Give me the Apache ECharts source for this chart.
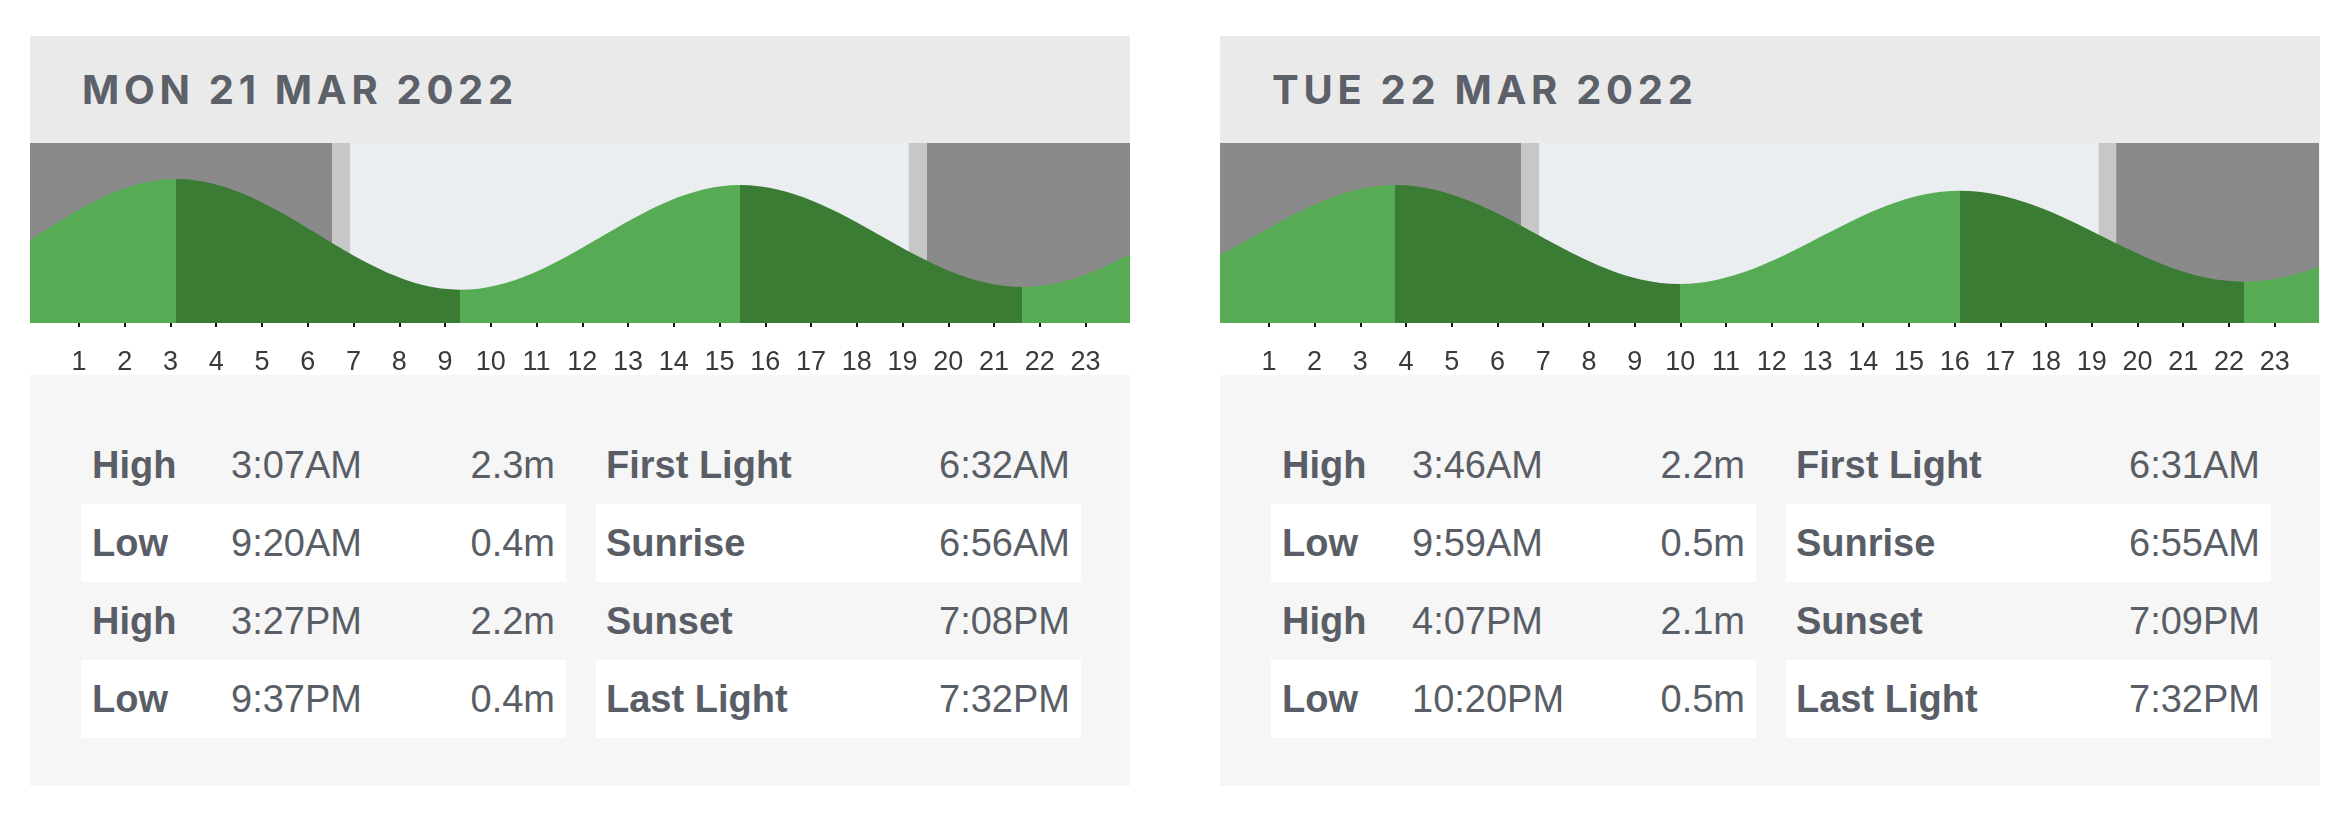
<!DOCTYPE html>
<html>
<head>
<meta charset="utf-8">
<script src="https://cdn.jsdelivr.net/npm/echarts@6/dist/echarts.min.js"></script>
<style>
html,body{margin:0;padding:0;background:#fff;width:2352px;height:825px;overflow:hidden;}
.panel{position:absolute;top:36px;width:1100px;height:750px;background:#f6f6f6;}
.head{position:absolute;left:0;top:0;width:1100px;height:107px;background:#eaeaea;}
.title{position:absolute;left:52px;top:0;height:107px;line-height:107px;font-family:Inter,"Open Sans",sans-serif;font-weight:700;font-size:40px;letter-spacing:4.7px;color:#5b6069;white-space:nowrap;}
.axisband{position:absolute;left:0;top:287px;width:1100px;height:52px;background:#fff;}
.tbl{position:absolute;top:390px;width:485px;}
.row{position:relative;height:78px;line-height:78px;font-family:"Liberation Sans",Arial,sans-serif;font-size:38px;color:#595e66;white-space:nowrap;}
.row.odd{background:#f6f6f6;}
.row.even{background:#ffffff;}
.row span{position:absolute;top:0;}
.lab{left:11px;font-weight:700;}
.val{right:11px;}
#chart{position:absolute;left:0;top:0;width:2352px;height:825px;}
</style>
</head>
<body>
<div class="panel" id="p1" style="left:30px;"><div class="head"><div class="title" id="t1"></div></div><div class="axisband"></div></div>
<div class="panel" id="p2" style="left:1220px;"><div class="head"><div class="title" id="t2"></div></div><div class="axisband"></div></div>
<div id="chart"></div>
<script>
// ---------- data ----------
const dayTitles = ['MON 21 MAR 2022', 'TUE 22 MAR 2022'];
const hourTicks = [1,2,3,4,5,6,7,8,9,10,11,12,13,14,15,16,17,18,19,20,21,22,23];
const tideLabels = ['High', 'Low', 'High', 'Low'];
const sunLabels = ['First Light', 'Sunrise', 'Sunset', 'Last Light'];

const day1TideTimes = ['3:07AM', '9:20AM', '3:27PM', '9:37PM'];
const day1TideHeights = ['2.3m', '0.4m', '2.2m', '0.4m'];
const day1SunTimes = ['6:32AM', '6:56AM', '7:08PM', '7:32PM'];
const day2TideTimes = ['3:46AM', '9:59AM', '4:07PM', '10:20PM'];
const day2TideHeights = ['2.2m', '0.5m', '2.1m', '0.5m'];
const day2SunTimes = ['6:31AM', '6:55AM', '7:09PM', '7:32PM'];

// tide turning points (hour of day, metres) incl. neighbouring days' turns
const day1TurnHours = [-9.22, -2.88, 3.117, 9.333, 15.45, 21.617, 27.767, 33.98];
const day1TurnHeights = [2.3, 0.4, 2.3, 0.4, 2.2, 0.45, 2.2, 0.5];
const day2TurnHours = [-8.55, -2.383, 3.767, 9.983, 16.117, 22.333, 28.55, 34.7];
const day2TurnHeights = [2.2, 0.45, 2.2, 0.5, 2.1, 0.54, 2.1, 0.55];

// first light, sunrise, sunset, last light (hour of day)
const day1LightHours = [6.533, 6.933, 19.133, 19.533];
const day2LightHours = [6.517, 6.917, 19.15, 19.533];

// ---------- colours ----------
const C_NIGHT = '#8a8a8a', C_TWI = '#c7c7c7', C_DAY = '#ebeef0';
const C_RISE = '#58ab55', C_FALL = '#3a7c34';

// ---------- html tables ----------
function buildPanel(panelId, titleId, title, tTimes, tHeights, sTimes, timeLeft) {
  document.getElementById(titleId).textContent = title;
  const p = document.getElementById(panelId);
  const left = document.createElement('div');
  left.className = 'tbl'; left.style.left = '51px';
  const right = document.createElement('div');
  right.className = 'tbl'; right.style.left = '566px';
  for (let i = 0; i < 4; i++) {
    const r = document.createElement('div');
    r.className = 'row ' + (i % 2 === 0 ? 'odd' : 'even');
    r.innerHTML = '<span class="lab">' + tideLabels[i] + '</span><span style="left:' + timeLeft + 'px">' + tTimes[i] + '</span><span class="val">' + tHeights[i] + '</span>';
    left.appendChild(r);
    const r2 = document.createElement('div');
    r2.className = 'row ' + (i % 2 === 0 ? 'odd' : 'even');
    r2.innerHTML = '<span class="lab" style="left:10px">' + sunLabels[i] + '</span><span class="val">' + sTimes[i] + '</span>';
    right.appendChild(r2);
  }
  p.appendChild(left); p.appendChild(right);
}
buildPanel('p1', 't1', dayTitles[0], day1TideTimes, day1TideHeights, day1SunTimes, 150);
buildPanel('p2', 't2', dayTitles[1], day2TideTimes, day2TideHeights, day2SunTimes, 141);

// ---------- chart ----------
function pieces(hours, heights) {
  const out = [];
  for (let i = 0; i < hours.length - 1; i++) {
    out.push({ min: hours[i], max: hours[i + 1], color: heights[i + 1] > heights[i] ? C_RISE : C_FALL });
  }
  return out;
}
function bands(L) {
  return [
    [{ xAxis: -1, itemStyle: { color: C_NIGHT } }, { xAxis: L[0] }],
    [{ xAxis: L[0], itemStyle: { color: C_TWI } }, { xAxis: L[1] }],
    [{ xAxis: L[1], itemStyle: { color: C_DAY } }, { xAxis: L[2] }],
    [{ xAxis: L[2], itemStyle: { color: C_TWI } }, { xAxis: L[3] }],
    [{ xAxis: L[3], itemStyle: { color: C_NIGHT } }, { xAxis: 25 }]
  ];
}
function xAxisFor(idx) {
  return {
    gridIndex: idx, type: 'value', min: -0.07, max: 23.97,
    axisLine: { show: false }, splitLine: { show: false },
    axisTick: { show: true, length: 14, customValues: hourTicks, lineStyle: { color: '#151515', width: 2 } },
    axisLabel: { show: true, margin: 26, customValues: hourTicks, color: '#3a3a3a', fontSize: 27,
      fontFamily: '"Liberation Sans Narrow","Arial Narrow","Liberation Sans",Arial,sans-serif',
      formatter: v => String(v) }
  };
}
function yAxisFor(idx) {
  return { gridIndex: idx, type: 'value', min: -0.17, max: 2.92, show: false, splitLine: { show: false } };
}
function seriesFor(idx, hours, heights, light) {
  return {
    type: 'line', xAxisIndex: idx, yAxisIndex: idx,
    data: hours.map((h, i) => [h, heights[i]]),
    smooth: 0.36, smoothMonotone: 'x', showSymbol: false, symbol: 'none',
    lineStyle: { width: 0 }, areaStyle: { opacity: 1, origin: 'start' },
    clip: true, silent: true, animation: false,
    markArea: { silent: true, label: { show: false }, data: bands(light) }
  };
}
const chart = echarts.init(document.getElementById('chart'), null, { renderer: 'canvas' });
chart.setOption({
  backgroundColor: 'transparent',
  animation: false,
  grid: [
    { left: 30, top: 143, width: 1100, height: 180 },
    { left: 1220, top: 143, width: 1099, height: 180 }
  ],
  xAxis: [xAxisFor(0), xAxisFor(1)],
  yAxis: [yAxisFor(0), yAxisFor(1)],
  visualMap: [
    { show: false, type: 'piecewise', seriesIndex: 0, dimension: 0, pieces: pieces(day1TurnHours, day1TurnHeights) },
    { show: false, type: 'piecewise', seriesIndex: 1, dimension: 0, pieces: pieces(day2TurnHours, day2TurnHeights) }
  ],
  series: [
    seriesFor(0, day1TurnHours, day1TurnHeights, day1LightHours),
    seriesFor(1, day2TurnHours, day2TurnHeights, day2LightHours)
  ]
});
</script>
</body>
</html>
